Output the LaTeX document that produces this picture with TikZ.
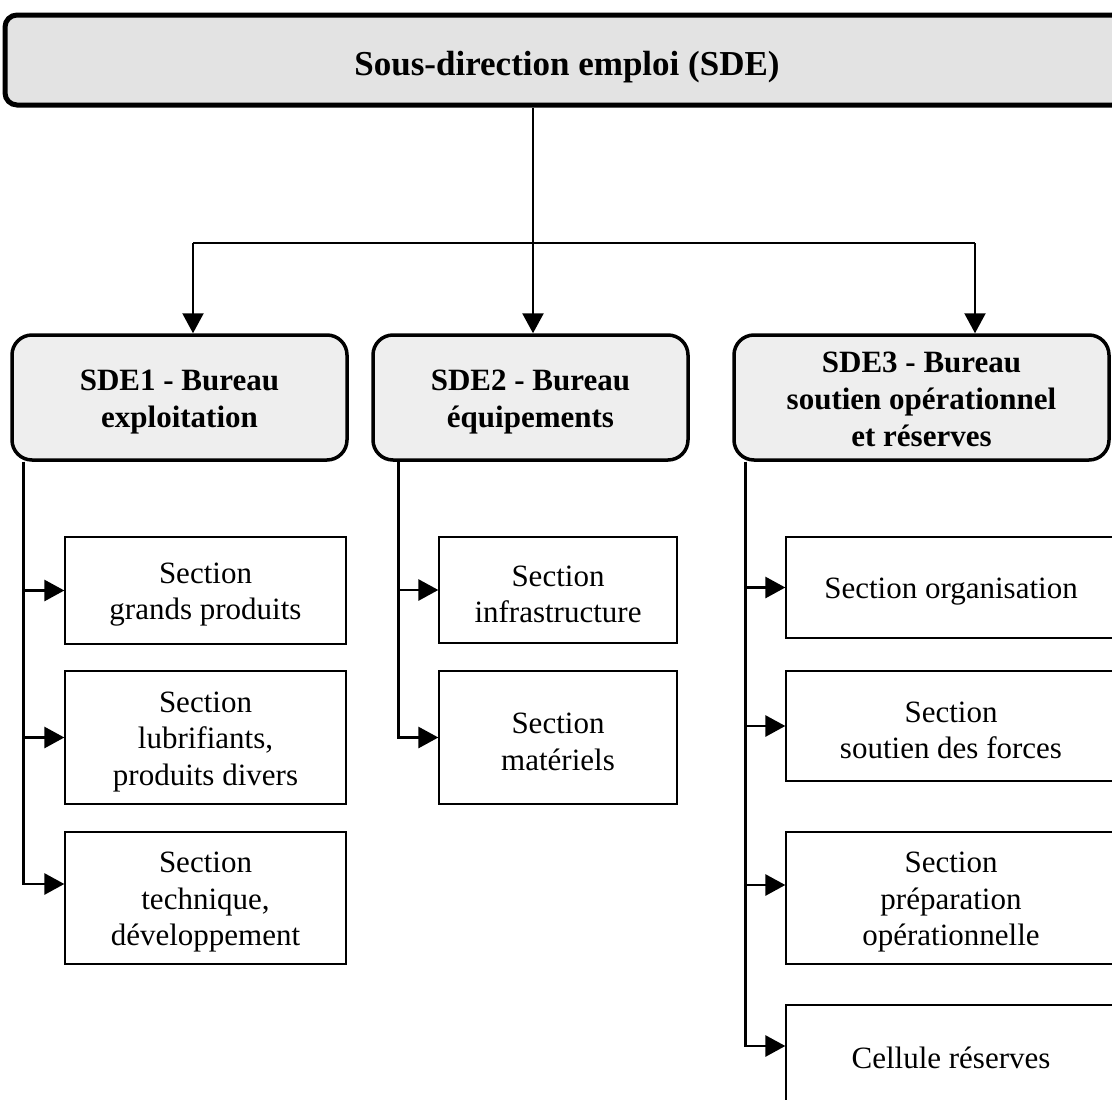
\documentclass[tikz,border=0pt]{standalone}
\usepackage{fontspec}
\setmainfont{Liberation Serif}
\usetikzlibrary{arrows.meta}
\definecolor{topfill}{HTML}{E3E3E3}
\definecolor{burfill}{HTML}{EEEEEE}
\newcommand\firstln{\rule{0pt}{29pt}}
\tikzset{
  topbox/.style={draw, line width=5pt, rounded corners=12pt, fill=topfill,
    inner sep=0pt, font=\fontsize{35}{40}\selectfont\bfseries, align=center},
  bureau/.style={draw, line width=3.5pt, rounded corners=20pt, fill=burfill,
    inner sep=0pt, font=\fontsize{31}{37}\selectfont\bfseries, align=center,
    minimum height=125pt},
  secbox/.style={draw, line width=1.3pt, inner sep=0pt,
    font=\fontsize{31}{36.5}\selectfont, align=center},
  tip/.style={-{Triangle[length=20pt,width=21pt]}},
  mainline/.style={tip, line width=2.6pt},
  hubline/.style={line width=2pt},
  trunk/.style={tip, line width=2.8pt},
}
\begin{document}
\begin{tikzpicture}[x=1pt,y=-1pt]
\useasboundingbox (0,0) rectangle (1112,1100);
\clip (0,0) rectangle (1112,1100);
\fill[white] (0,0) rectangle (1112,1100);

% top box
\node[topbox, minimum width=1124pt, minimum height=90pt] (top) at (567,60) {\rule{0pt}{38pt}Sous-direction emploi (SDE)};

% bureaux
\node[bureau, minimum width=335pt] (sde1) at (179.5,397.5) {\firstln SDE1 - Bureau\\exploitation};
\node[bureau, minimum width=315pt] (sde2) at (530.5,397.5) {\firstln SDE2 - Bureau\\équipements};
\node[bureau, minimum width=375pt] (sde3) at (921.5,397.5) {\rule{0pt}{25pt}SDE3 - Bureau\\soutien opérationnel\\et réserves};

% sections SDE1
\node[secbox, minimum width=281pt, minimum height=107pt] (s11) at (205.5,590.5) {\firstln Section\\grands produits};
\node[secbox, minimum width=281pt, minimum height=133pt] (s12) at (205.5,737.5) {\firstln Section\\lubrifiants,\\produits divers};
\node[secbox, minimum width=281pt, minimum height=132pt] (s13) at (205.5,898) {\firstln Section\\technique,\\développement};

% sections SDE2
\node[secbox, minimum width=238pt, minimum height=106pt] (s21) at (558,590) {\firstln Section\\infrastructure};
\node[secbox, minimum width=238pt, minimum height=133pt] (s22) at (558,737.5) {\firstln Section\\matériels};

% sections SDE3
\node[secbox, minimum width=330pt, minimum height=101pt] (s31) at (951,587.5) {\firstln Section organisation};
\node[secbox, minimum width=330pt, minimum height=110pt] (s32) at (951,726) {\firstln Section\\soutien des forces};
\node[secbox, minimum width=330pt, minimum height=132pt] (s33) at (951,898) {\firstln Section\\préparation\\opérationnelle};
\node[secbox, minimum width=330pt, minimum height=106pt] (s34) at (951,1058) {Cellule réserves};

% top connectors
\coordinate (hub) at (533,243);
\coordinate (in1) at ([xshift=13.5pt]sde1.north);
\coordinate (in3) at ([xshift=53.5pt]sde3.north);
\draw[mainline] (top.south -| hub) -- (hub |- sde2.north);
\draw[hubline] (hub -| in1) -- (hub -| in3);
\draw[mainline, line width=2.2pt] (hub -| in1) -- (in1);
\draw[mainline, line width=2.2pt] (hub -| in3) -- (in3);

% SDE1 trunk
\coordinate (t1) at ([xshift=13pt]sde1.south west);
\draw[trunk] (t1) |- (s11.west);
\draw[trunk] (t1) |- (s12.west);
\draw[trunk] (t1) |- ([yshift=14pt]s13.west);

% SDE2 trunk
\coordinate (t2) at ([xshift=27pt]sde2.south west);
\draw[trunk] (t2) |- (s21.west);
\draw[trunk] (t2) |- (s22.west);

% SDE3 trunk
\coordinate (t3) at ([xshift=13pt]sde3.south west);
\draw[trunk] (t3) |- (s31.west);
\draw[trunk] (t3) |- (s32.west);
\draw[trunk] (t3) |- ([yshift=13pt]s33.west);
\draw[trunk] (t3) |- ([yshift=12pt]s34.west);
\end{tikzpicture}
\end{document}
